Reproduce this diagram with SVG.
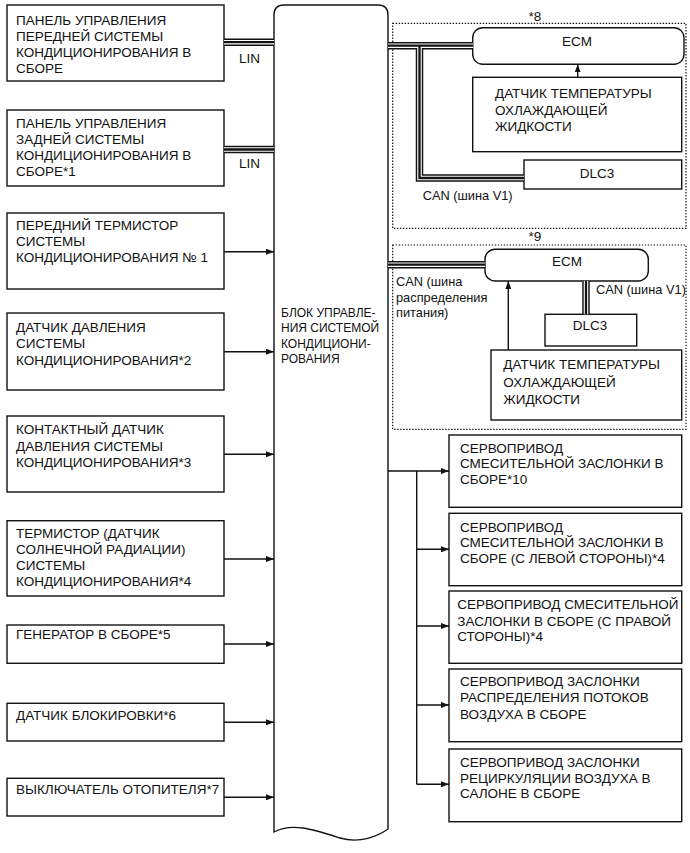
<svg xmlns="http://www.w3.org/2000/svg" width="690" height="853" viewBox="0 0 690 853">
<style>
.box{fill:#fff;stroke:#111;stroke-width:1.4}
.dot{fill:none;stroke:#111;stroke-width:1.2;stroke-dasharray:1.4,1.6}
.t{font-family:"Liberation Sans",Arial,sans-serif;font-size:13.5px;fill:#111}
.s{font-family:"Liberation Sans",Arial,sans-serif;font-size:12px;fill:#111}
.c{font-family:"Liberation Sans",Arial,sans-serif;font-size:12.8px;fill:#111}
.m{text-anchor:middle}
.ln{fill:none;stroke:#111;stroke-width:1.4}
.bo{fill:none;stroke:#111;stroke-width:7.5}
.bw{fill:none;stroke:#fff;stroke-width:4.6}
.bc{fill:none;stroke:#111;stroke-width:2.3}
</style>
<defs>
<marker id="ah" markerUnits="userSpaceOnUse" markerWidth="8" markerHeight="6" refX="8" refY="3" orient="auto">
<path d="M0,0 L8,3 L0,6 Z" fill="#111"/>
</marker>
</defs>

<g id="n-front-panel">
<rect class="box" x="7" y="5" width="217" height="76"/>
<text class="t"><tspan x="16" y="25">ПАНЕЛЬ УПРАВЛЕНИЯ</tspan><tspan x="16" y="41.3">ПЕРЕДНЕЙ СИСТЕМЫ</tspan><tspan x="16" y="57.3">КОНДИЦИОНИРОВАНИЯ В</tspan><tspan x="16" y="73.3">СБОРЕ</tspan></text>
</g>
<g id="n-rear-panel">
<rect class="box" x="7" y="110" width="217" height="76"/>
<text class="t"><tspan x="16" y="127.7">ПАНЕЛЬ УПРАВЛЕНИЯ</tspan><tspan x="16" y="143.5">ЗАДНЕЙ СИСТЕМЫ</tspan><tspan x="16" y="159.5">КОНДИЦИОНИРОВАНИЯ В</tspan><tspan x="16" y="175.7">СБОРЕ*1</tspan></text>
</g>
<g id="n-front-thermistor">
<rect class="box" x="7" y="213" width="217" height="76"/>
<text class="t"><tspan x="16" y="229.5">ПЕРЕДНИЙ ТЕРМИСТОР</tspan><tspan x="16" y="245.5">СИСТЕМЫ</tspan><tspan x="16" y="261.7">КОНДИЦИОНИРОВАНИЯ № 1</tspan></text>
</g>
<g id="n-pressure-sensor">
<rect class="box" x="7" y="313" width="217" height="77"/>
<text class="t"><tspan x="16" y="331.7">ДАТЧИК ДАВЛЕНИЯ</tspan><tspan x="16" y="348">СИСТЕМЫ</tspan><tspan x="16" y="364.5">КОНДИЦИОНИРОВАНИЯ*2</tspan></text>
</g>
<g id="n-pressure-switch">
<rect class="box" x="7" y="416" width="217" height="76"/>
<text class="t"><tspan x="16" y="434">КОНТАКТНЫЙ ДАТЧИК</tspan><tspan x="16" y="450.5">ДАВЛЕНИЯ СИСТЕМЫ</tspan><tspan x="16" y="466.7">КОНДИЦИОНИРОВАНИЯ*3</tspan></text>
</g>
<g id="n-solar-sensor">
<rect class="box" x="7" y="520.7" width="217" height="75.3"/>
<text class="t"><tspan x="16" y="537.7">ТЕРМИСТОР (ДАТЧИК</tspan><tspan x="16" y="554">СОЛНЕЧНОЙ РАДИАЦИИ)</tspan><tspan x="16" y="570">СИСТЕМЫ</tspan><tspan x="16" y="586">КОНДИЦИОНИРОВАНИЯ*4</tspan></text>
</g>
<g id="n-generator">
<rect class="box" x="7" y="625" width="217" height="38.3"/>
<text class="t" x="16" y="639.3">ГЕНЕРАТОР В СБОРЕ*5</text>
</g>
<g id="n-lock-sensor">
<rect class="box" x="7" y="703.3" width="217" height="37.7"/>
<text class="t" x="16" y="720">ДАТЧИК БЛОКИРОВКИ*6</text>
</g>
<g id="n-heater-switch">
<rect class="box" x="7" y="778.3" width="217" height="37.7"/>
<text class="t" x="16" y="794.3">ВЫКЛЮЧАТЕЛЬ ОТОПИТЕЛЯ*7</text>
</g>

<g id="n-ac-ecu">
<path class="box" d="M274,832 V15 Q274,5 284,5 H378 Q388,5 388,15 V829 C378,836 360,844 340,838 C315,830 292,822 274,832 Z"/>
<text class="s"><tspan x="281" y="316.7">БЛОК УПРАВЛЕ-</tspan><tspan x="281" y="332.3">НИЯ СИСТЕМОЙ</tspan><tspan x="281" y="347.5">КОНДИЦИОНИ-</tspan><tspan x="281" y="362.5">РОВАНИЯ</tspan></text>
</g>

<g id="n-group8">
<rect class="dot" x="392.7" y="23.3" width="293.3" height="205"/>
<text class="t m" x="535" y="20.5">*8</text>
</g>
<g id="n-ecm8">
<rect class="box" x="472.7" y="27.7" width="211.3" height="36.6" rx="10"/>
<text class="t m" x="577" y="46">ECM</text>
</g>
<g id="n-ect8">
<rect class="box" x="472.7" y="77.3" width="209" height="74.4"/>
<text class="t"><tspan x="495" y="98.3">ДАТЧИК ТЕМПЕРАТУРЫ</tspan><tspan x="495" y="115">ОХЛАЖДАЮЩЕЙ</tspan><tspan x="495" y="131">ЖИДКОСТИ</tspan></text>
</g>
<g id="n-dlc8">
<rect class="box" x="524" y="160" width="157.7" height="29"/>
<text class="t m" x="597" y="177.7">DLC3</text>
</g>

<g id="n-group9">
<rect class="dot" x="392.7" y="245" width="293.3" height="184.3"/>
<text class="t m" x="535" y="240.7">*9</text>
</g>
<g id="n-ecm9">
<rect class="box" x="485" y="249.3" width="163.3" height="31.7" rx="10"/>
<text class="t m" x="567" y="265.7">ECM</text>
</g>
<g id="n-dlc9">
<rect class="box" x="545" y="314.3" width="91.7" height="31.7"/>
<text class="t m" x="590" y="330">DLC3</text>
</g>
<g id="n-ect9">
<rect class="box" x="491" y="350" width="190.7" height="70"/>
<text class="t"><tspan x="503.3" y="369">ДАТЧИК ТЕМПЕРАТУРЫ</tspan><tspan x="503.3" y="386.7">ОХЛАЖДАЮЩЕЙ</tspan><tspan x="503.3" y="404">ЖИДКОСТИ</tspan></text>
</g>

<g id="n-servo1">
<rect class="box" x="449" y="435" width="232.7" height="72.3"/>
<text class="t"><tspan x="460" y="452.7">СЕРВОПРИВОД</tspan><tspan x="460" y="468.3">СМЕСИТЕЛЬНОЙ ЗАСЛОНКИ В</tspan><tspan x="460" y="484.3">СБОРЕ*10</tspan></text>
</g>
<g id="n-servo2">
<rect class="box" x="449" y="513.3" width="232.7" height="72.4"/>
<text class="t"><tspan x="460" y="531.7">СЕРВОПРИВОД</tspan><tspan x="460" y="547.3">СМЕСИТЕЛЬНОЙ ЗАСЛОНКИ В</tspan><tspan x="460" y="562.7">СБОРЕ (С ЛЕВОЙ СТОРОНЫ)*4</tspan></text>
</g>
<g id="n-servo3">
<rect class="box" x="449" y="591" width="232.7" height="72.3"/>
<text class="t"><tspan x="457.3" y="609.3">СЕРВОПРИВОД СМЕСИТЕЛЬНОЙ</tspan><tspan x="457.3" y="626">ЗАСЛОНКИ В СБОРЕ (С ПРАВОЙ</tspan><tspan x="457.3" y="641">СТОРОНЫ)*4</tspan></text>
</g>
<g id="n-servo4">
<rect class="box" x="449" y="669" width="232.7" height="72.7"/>
<text class="t"><tspan x="460" y="686">СЕРВОПРИВОД ЗАСЛОНКИ</tspan><tspan x="460" y="701.7">РАСПРЕДЕЛЕНИЯ ПОТОКОВ</tspan><tspan x="460" y="719">ВОЗДУХА В СБОРЕ</tspan></text>
</g>
<g id="n-servo5">
<rect class="box" x="449" y="749" width="232.7" height="72.7"/>
<text class="t"><tspan x="460" y="766.7">СЕРВОПРИВОД ЗАСЛОНКИ</tspan><tspan x="460" y="782.7">РЕЦИРКУЛЯЦИИ ВОЗДУХА В</tspan><tspan x="460" y="798.3">САЛОНЕ В СБОРЕ</tspan></text>
</g>

<g id="connectors">
<path class="bo" d="M224,42.2 H274 M224,149.5 H274"/>
<path class="bw" d="M224,42.2 H274 M224,149.5 H274"/>
<path class="bc" d="M224,42.2 H274 M224,149.5 H274"/>
<text class="t" x="239" y="62.7">LIN</text>
<text class="t" x="239" y="168">LIN</text>
<path class="bo" d="M388,45.7 H473 M419.5,45.7 V178 H524"/>
<path class="bw" d="M388,45.7 H473 M419.5,45.7 V178 H524"/>
<path class="bc" d="M388,45.7 H473 M419.5,45.7 V178 H524"/>
<text class="c" x="422.7" y="200">CAN (шина V1)</text>
<path class="bo" d="M388,264.7 H485 M586,281 V314.3"/>
<path class="bw" d="M388,264.7 H485 M586,281 V314.3"/>
<path class="bc" d="M388,264.7 H485 M586,281 V314.3"/>
<text class="c"><tspan x="396" y="286">CAN (шина</tspan><tspan x="396" y="301.5">распределения</tspan><tspan x="396" y="316.5">питания)</tspan></text>
<text class="c" x="596" y="294">CAN (шина V1)</text>
<path class="ln" d="M577.7,77.3 V64.3" marker-end="url(#ah)"/>
<path class="ln" d="M508.3,350 V281" marker-end="url(#ah)"/>
<path class="ln" d="M224,251.7 H274" marker-end="url(#ah)"/>
<path class="ln" d="M224,351.7 H274" marker-end="url(#ah)"/>
<path class="ln" d="M224,454.3 H274" marker-end="url(#ah)"/>
<path class="ln" d="M224,559 H274" marker-end="url(#ah)"/>
<path class="ln" d="M224,644 H274" marker-end="url(#ah)"/>
<path class="ln" d="M224,722.3 H274" marker-end="url(#ah)"/>
<path class="ln" d="M224,797.3 H274" marker-end="url(#ah)"/>
<path class="ln" d="M416.7,471 V784.3"/>
<path class="ln" d="M388,471 H449" marker-end="url(#ah)"/>
<path class="ln" d="M416.7,549.3 H449" marker-end="url(#ah)"/>
<path class="ln" d="M416.7,626 H449" marker-end="url(#ah)"/>
<path class="ln" d="M416.7,705 H449" marker-end="url(#ah)"/>
<path class="ln" d="M416.7,784.3 H449" marker-end="url(#ah)"/>
</g>
</svg>
